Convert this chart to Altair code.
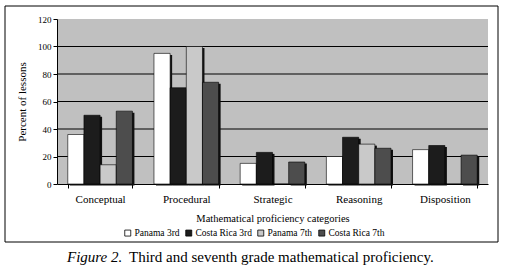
import altair as alt
import pandas as pd

categories = ["Conceptual", "Procedural", "Strategic", "Reasoning", "Disposition"]
series = ["Panama 3rd", "Costa Rica 3rd", "Panama 7th", "Costa Rica 7th"]
panama_3rd = [36, 95, 15, 20, 25]
costa_rica_3rd = [50, 70, 23, 34, 28]
panama_7th = [14, 100, 0, 29, 0]
costa_rica_7th = [53, 74, 16, 26, 21]
colors = ["#ffffff", "#1c1c1c", "#c9c9c9", "#4d4d4d"]

rows = []
for s, vals in zip(series, [panama_3rd, costa_rica_3rd, panama_7th, costa_rica_7th]):
    for c, v in zip(categories, vals):
        rows.append({"category": c, "series": s, "value": v})
df = pd.DataFrame(rows)

font = "Liberation Serif, Times New Roman, serif"
W, H = 431, 165
BW = W / (5 - 0.25 + 0.25) * 0.75  # group band width

xscale = alt.Scale(domain=categories, paddingInner=0.25, paddingOuter=0.125)
yscale = alt.Scale(domain=[0, 120])

xaxis = alt.Axis(
    labelAngle=0,
    tickBand="extent",
    domainColor="#000000",
    tickColor="#000000",
    tickSize=4,
    labelFont=font,
    labelFontSize=11,
    labelColor="#000000",
    labelPadding=5,
    titleFont=font,
    titleFontSize=10.5,
    titleFontWeight="normal",
    titleColor="#000000",
    titlePadding=9,
    grid=False,
)
yaxis = alt.Axis(
    values=[0, 20, 40, 60, 80, 100, 120],
    labelOverlap=False,
    grid=False,
    domainColor="#000000",
    tickColor="#000000",
    tickSize=4,
    labelFont=font,
    labelFontSize=9,
    labelColor="#000000",
    labelPadding=2,
    titleFont=font,
    titleFontSize=11,
    titleFontWeight="normal",
    titleColor="#000000",
    titlePadding=10,
)

xenc = alt.X("category:N", scale=xscale, sort=categories,
             title="Mathematical proficiency categories", axis=xaxis)
yenc = alt.Y("value:Q", scale=yscale, title="Percent of lessons", axis=yaxis)

shadow = alt.Chart(df).mark_bar(color="#111111", yOffset=1.5).encode(
    x=xenc,
    xOffset=alt.XOffset("series:N", sort=series,
                        scale=alt.Scale(domain=series, range=[2, BW + 2])),
    y=yenc,
)

bars = alt.Chart(df).mark_bar(stroke="#000000", strokeWidth=0.6).encode(
    x=xenc,
    xOffset=alt.XOffset("series:N", sort=series,
                        scale=alt.Scale(domain=series, range=[0, BW])),
    y=yenc,
    color=alt.Color(
        "series:N",
        sort=series,
        scale=alt.Scale(domain=series, range=colors),
        legend=alt.Legend(
            title=None,
            orient="none",
            legendX=66,
            legendY=209,
            direction="horizontal",
            symbolType="square",
            symbolSize=36,
            symbolStrokeColor="#000000",
            symbolStrokeWidth=0.8,
            labelFont=font,
            labelFontSize=9.5,
            labelColor="#000000",
            columnPadding=4,
            symbolOffset=0,
            labelOffset=2,
            padding=0,
        ),
    ),
)

grid_df = pd.DataFrame({"g": [20, 40, 60, 80, 100]})
grid = alt.Chart(grid_df).mark_rule(color="#000000", strokeWidth=1).encode(
    y=alt.Y("g:Q", scale=yscale, axis=yaxis, title="Percent of lessons")
)

border = alt.Chart(pd.DataFrame({"a": [0]})).mark_rect(
    fill=None, stroke="#000000", strokeWidth=1
).encode(
    x=alt.value(-52), x2=alt.value(441), y=alt.value(-13), y2=alt.value(223)
)

cap1 = alt.Chart(pd.DataFrame({"t": ["Figure 2."]})).mark_text(
    font=font, fontSize=15, fontStyle="italic", align="left", baseline="alphabetic", color="#000000"
).encode(text="t:N", x=alt.value(10), y=alt.value(243))

cap2 = alt.Chart(pd.DataFrame({"t": ["Third and seventh grade mathematical proficiency."]})).mark_text(
    font=font, fontSize=15, align="left", baseline="alphabetic", color="#000000"
).encode(text="t:N", x=alt.value(72), y=alt.value(243))

chart = alt.layer(grid, shadow, bars, border, cap1, cap2).resolve_scale(
    xOffset="independent"
).properties(
    width=W, height=H,
    padding={"left": 57, "top": 19, "right": 19, "bottom": 85},
    autosize=alt.AutoSizeParams(type="none"),
    background="#ffffff",
).configure_view(fill="#c0c0c0", stroke=None)

chart.save("out.html", embed_options={"renderer": "svg", "actions": False})
